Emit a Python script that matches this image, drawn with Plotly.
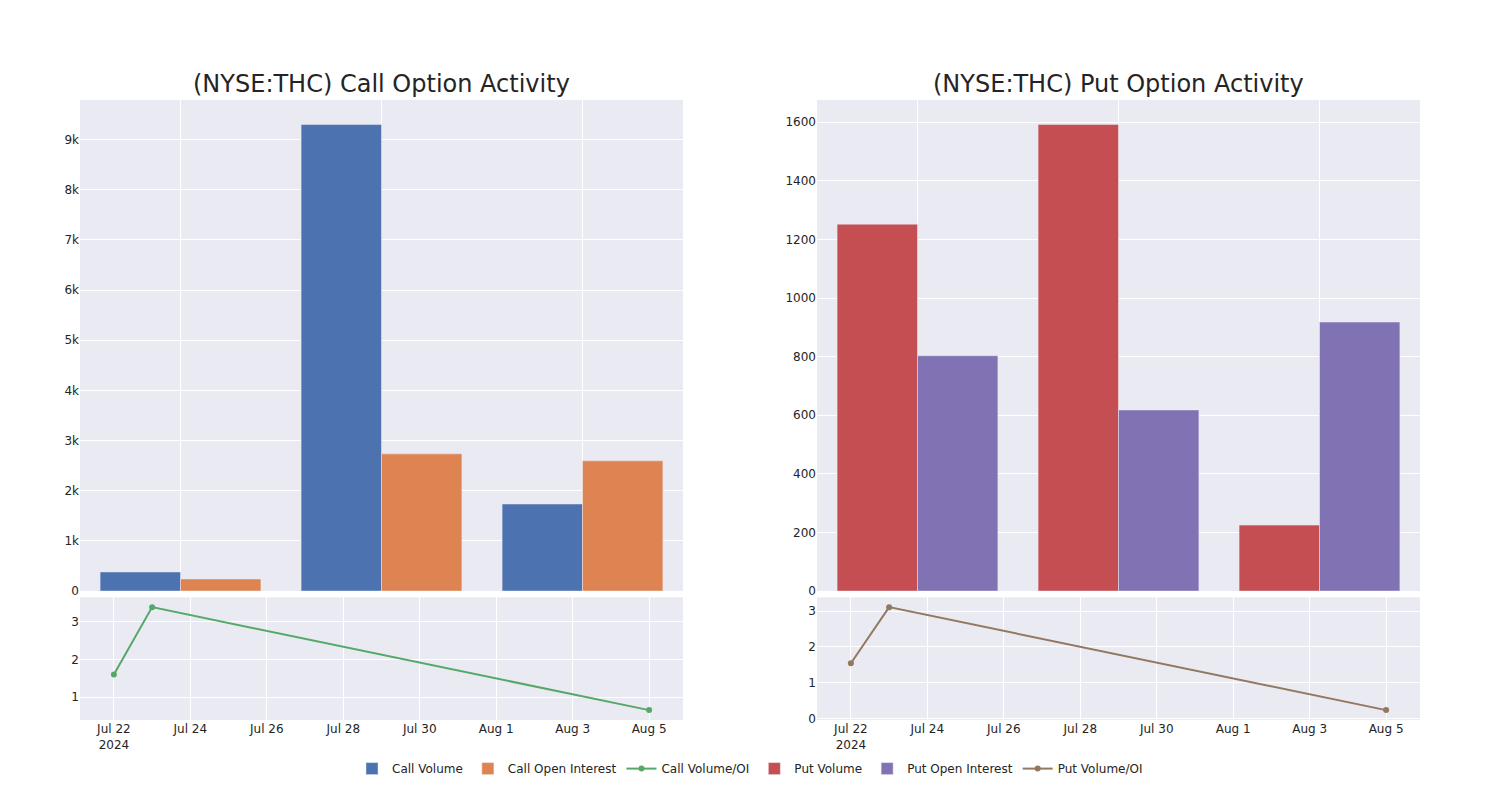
import plotly.graph_objects as go
from plotly.subplots import make_subplots

bar_dates = ["2024-07-22", "2024-07-23", "2024-08-05"]
call_volume = [380, 9300, 1735]
call_oi = [240, 2735, 2595]
put_volume = [1252, 1592, 225]
put_oi = [803, 618, 918]

ratio_dates = ["2024-07-22", "2024-07-23", "2024-08-05"]
call_ratio = [1.60, 3.38, 0.66]
put_ratio = [1.54, 3.11, 0.23]

fig = make_subplots(
    rows=2, cols=2,
    row_heights=[0.8, 0.2],
    horizontal_spacing=0.1,
    vertical_spacing=0.01,
    subplot_titles=["(NYSE:THC) Call Option Activity", "(NYSE:THC) Put Option Activity", "", ""],
)

fig.add_trace(go.Bar(x=bar_dates, y=call_volume, name="Call Volume"), row=1, col=1)
fig.add_trace(go.Bar(x=bar_dates, y=call_oi, name="Call Open Interest"), row=1, col=1)
fig.add_trace(go.Scatter(x=ratio_dates, y=call_ratio, name="Call Volume/OI", mode="lines+markers"), row=2, col=1)
fig.add_trace(go.Bar(x=bar_dates, y=put_volume, name="Put Volume"), row=1, col=2)
fig.add_trace(go.Bar(x=bar_dates, y=put_oi, name="Put Open Interest"), row=1, col=2)
fig.add_trace(go.Scatter(x=ratio_dates, y=put_ratio, name="Put Volume/OI", mode="lines+markers"), row=2, col=2)

fig.update_xaxes(type="category", showticklabels=False, row=1, col=1)
fig.update_xaxes(type="category", showticklabels=False, row=1, col=2)
fig.update_xaxes(type="date", row=2, col=1)
fig.update_xaxes(type="date", row=2, col=2)

for ann in fig.layout.annotations:
    ann.font = dict(size=24)

fig.update_layout(
    template="seaborn",
    font=dict(family="DejaVu Sans"),
    width=1500, height=800,
    margin=dict(l=72, r=88, t=92, b=88),
    barmode="group",
    legend=dict(orientation="h", x=0.5, xanchor="center", y=-0.055, yanchor="top"),
)

fig.write_html("out.html")
